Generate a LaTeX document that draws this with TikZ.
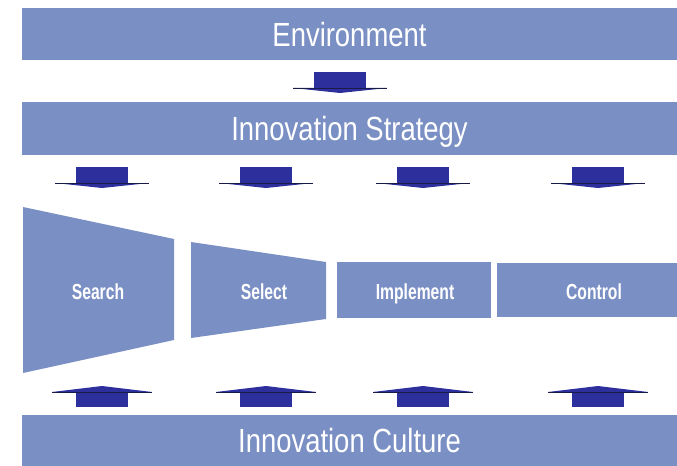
\documentclass[tikz,border=0pt]{standalone}
\usepackage{fontspec}
\newfontfamily\barfont{Liberation Sans}[FakeStretch=0.82]
\newfontfamily\stagefont{Liberation Sans}[FakeStretch=0.72]
\definecolor{barblue}{RGB}{122,143,196}
\definecolor{blockblue}{RGB}{44,47,156}
\definecolor{flangeblue}{RGB}{27,27,74}
\tikzset{
    bar/.style={fill=barblue, text=white, inner sep=0pt, text depth=0pt,
        minimum width=16.375cm, font=\barfont\fontsize{23.8}{28}\selectfont},
    stage/.style={text=white, inner sep=0pt, text depth=0pt,
        font=\stagefont\bfseries\fontsize{15.5}{18}\selectfont},
    downblock/.pic={
        \fill[blockblue] (-26,-16) rectangle (26,0);
        \fill[blockblue] (-47,0) -- (47,0) -- (0,5) -- cycle;
        \draw[flangeblue, line width=0.6pt] (-47,0) -- (47,0);
    },
    upblock/.pic={
        \fill[blockblue] (-26,0) rectangle (26,15);
        \fill[blockblue] (-50,0) -- (50,0) -- (0,-6) -- cycle;
        \draw[flangeblue, line width=0.6pt] (-50,0) -- (50,0);
    }
}
\begin{document}
\begin{tikzpicture}[x=0.025cm, y=-0.025cm]
            \useasboundingbox (0,0) rectangle (677,466);

            \node[bar, minimum height=1.3cm] (env) at (349.5,34) {Environment};
            \node[bar, minimum height=1.325cm] (strat) at (349.5,128.5) {Innovation Strategy};
            \node[bar, minimum height=1.275cm] (cult) at (349.5,440.5) {Innovation Culture};

            \fill[barblue] (23,207) -- (174,239) -- (174,340) -- (23,373) -- cycle;
            \fill[barblue] (191,242) -- (326,262) -- (326,319) -- (191,338) -- cycle;
            \node[stage, fill=barblue, minimum width=3.85cm, minimum height=1.4cm] (impl) at (414,290) {};
            \node[stage, fill=barblue, minimum width=4.5cm, minimum height=1.35cm] (ctrl) at (587,290) {};

            \node[stage] (search) at (98,292) {Search};
            \node[stage] (select) at (264,292) {Select};
            \node[stage] (impllabel) at (415,292) {Implement};
            \node[stage] (ctrllabel) at (594,292) {Control};

            \pic at (340,88) {downblock};

            \pic at (102,183) {downblock};
            \pic at (266,183) {downblock};
            \pic at (423,183) {downblock};
            \pic at (598,183) {downblock};

            \pic at (102,392) {upblock};
            \pic at (266,392) {upblock};
            \pic at (423,392) {upblock};
            \pic at (598,392) {upblock};
        \end{tikzpicture}
\end{document}
